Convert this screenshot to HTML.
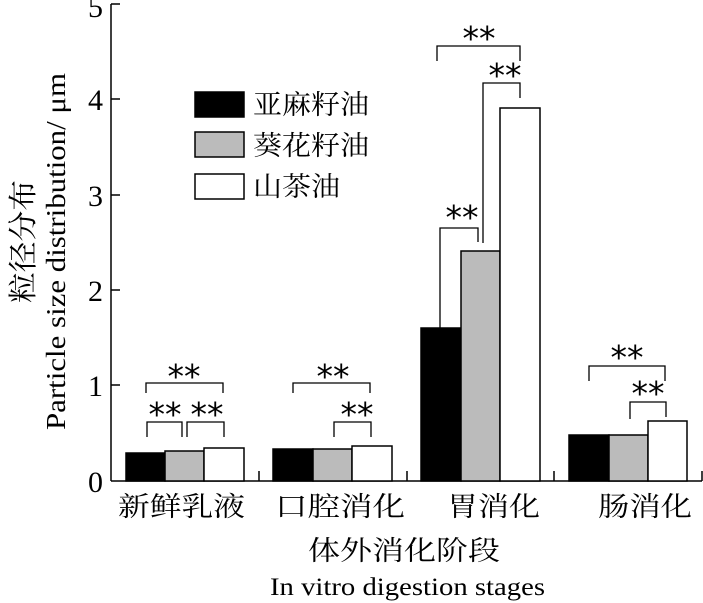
<!DOCTYPE html>
<html><head><meta charset="utf-8"><style>html,body{margin:0;padding:0;background:#fff}svg{display:block}</style></head>
<body>
<svg width="703" height="603" viewBox="0 0 703 603" xmlns="http://www.w3.org/2000/svg" font-family="'Liberation Serif','Noto Serif CJK SC',serif">
<g stroke="#000" stroke-width="1.5" fill="none">
<line x1="111" y1="4" x2="111" y2="481"/>
<line x1="111" y1="481" x2="702" y2="481"/>
<line x1="111" y1="4" x2="120" y2="4"/>
<line x1="111" y1="99" x2="120" y2="99"/>
<line x1="111" y1="195" x2="120" y2="195"/>
<line x1="111" y1="290" x2="120" y2="290"/>
<line x1="111" y1="385" x2="120" y2="385"/>
<line x1="259" y1="481" x2="259" y2="471"/>
<line x1="407" y1="481" x2="407" y2="471"/>
<line x1="554" y1="481" x2="554" y2="471"/>
<line x1="702" y1="481" x2="702" y2="471"/>
</g>
<g stroke="#000" stroke-width="1.5">
<rect x="126" y="453" width="39" height="28" fill="#000"/>
<rect x="165" y="451" width="39" height="30" fill="#bbb"/>
<rect x="204" y="448" width="40" height="33" fill="#fff"/>
<rect x="273" y="449" width="40" height="32" fill="#000"/>
<rect x="313" y="449" width="39" height="32" fill="#bbb"/>
<rect x="352" y="446" width="40" height="35" fill="#fff"/>
<rect x="421" y="328" width="40" height="153" fill="#000"/>
<rect x="461" y="251" width="39" height="230" fill="#bbb"/>
<rect x="500" y="108" width="40" height="373" fill="#fff"/>
<rect x="569" y="435" width="40" height="46" fill="#000"/>
<rect x="609" y="435" width="39" height="46" fill="#bbb"/>
<rect x="648" y="421" width="39" height="60" fill="#fff"/>
<rect x="195" y="92" width="49" height="25" fill="#000"/>
<rect x="195" y="132" width="49" height="25" fill="#bbb"/>
<rect x="195" y="174" width="49" height="25" fill="#fff"/>
</g>
<g stroke="#000" stroke-width="1.3" fill="none">
<polyline points="146,393 146,383 223,383 223,393"/>
<polyline points="147,437 147,422 182,422 182,437"/>
<polyline points="187,437 187,422 224,422 224,437"/>
<polyline points="293,393 293,383 370,383 370,393"/>
<polyline points="334,437 334,422 371,422 371,437"/>
<polyline points="437,61 437,46 520,46 520,61"/>
<polyline points="483,243 483,83 520,83 520,98"/>
<polyline points="440,328 440,228 478,228 478,242"/>
<polyline points="589,381 589,366 665,366 665,381"/>
<polyline points="630,419 630,402 666,402 666,417"/>
</g>
<g font-size="33" text-anchor="middle" fill="#000" font-family="'DejaVu Sans',sans-serif">
<text x="184" y="388">**</text>
<text x="165" y="426">**</text>
<text x="207" y="426">**</text>
<text x="333" y="388">**</text>
<text x="357" y="426">**</text>
<text x="479" y="50">**</text>
<text x="505" y="87">**</text>
<text x="462" y="229">**</text>
<text x="627" y="369">**</text>
<text x="648" y="405">**</text>
</g>
<g font-size="30" text-anchor="end" fill="#000">
<text x="103" y="17" transform="">5</text>
<text x="103" y="110">4</text>
<text x="103" y="206">3</text>
<text x="103" y="301">2</text>
<text x="103" y="396">1</text>
<text x="103" y="492">0</text>
</g>
<g font-size="27" fill="#000">
<text x="253" y="114" textLength="116" lengthAdjust="spacingAndGlyphs">亚麻籽油</text>
<text x="253" y="155" textLength="116" lengthAdjust="spacingAndGlyphs">葵花籽油</text>
<text x="253" y="196" textLength="87" lengthAdjust="spacingAndGlyphs">山茶油</text>
<text x="118" y="516" textLength="127" lengthAdjust="spacingAndGlyphs">新鲜乳液</text>
<text x="275" y="516" textLength="130" lengthAdjust="spacingAndGlyphs">口腔消化</text>
<text x="447" y="516" textLength="93" lengthAdjust="spacingAndGlyphs">胃消化</text>
<text x="598" y="516" textLength="94" lengthAdjust="spacingAndGlyphs">肠消化</text>
<text x="308" y="560" textLength="192" lengthAdjust="spacingAndGlyphs">体外消化阶段</text>
</g>
<text x="270" y="595" font-size="25" textLength="275" lengthAdjust="spacingAndGlyphs">In vitro digestion stages</text>
<g transform="translate(33,303) rotate(-90)"><text x="0" y="0" font-size="29" textLength="123" lengthAdjust="spacingAndGlyphs">粒径分布</text></g>
<g transform="translate(65,430) rotate(-90)"><text x="0" y="0" font-size="27" textLength="357" lengthAdjust="spacingAndGlyphs">Particle size distribution/ μm</text></g>
</svg>
</body></html>
